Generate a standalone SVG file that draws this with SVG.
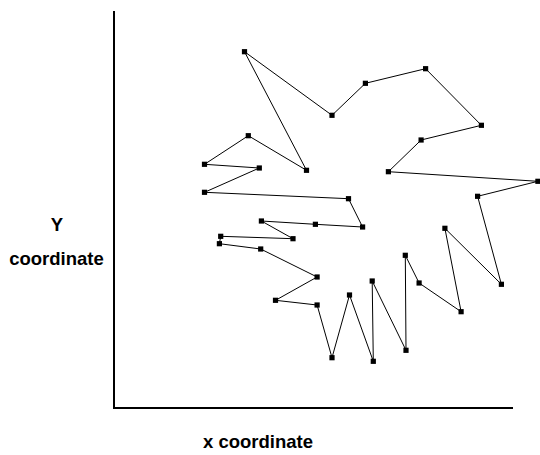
<svg xmlns="http://www.w3.org/2000/svg" width="540" height="455" viewBox="0 0 540 455">
<style>
.axis{stroke:#000;stroke-width:2;fill:none}
.c line{stroke:#000;stroke-width:1}
.n{fill:#000}
.lbl{font-family:"Liberation Sans",Arial,sans-serif;font-weight:bold;font-size:18.5px;fill:#000;text-anchor:middle}
</style>
<defs><rect id="pt" x="-2.6" y="-2.6" width="5.2" height="5.2" class="n"/></defs>
<rect width="540" height="455" fill="#fff"/>
<g id="axes">
<line class="axis" x1="114" y1="11" x2="114" y2="409"/>
<line class="axis" x1="113" y1="408" x2="513" y2="408"/>
</g>
<g id="connectors" class="c">
<line x1="244.5" y1="51.7" x2="332" y2="115.3"/>
<line x1="332" y1="115.3" x2="365.4" y2="83.3"/>
<line x1="365.4" y1="83.3" x2="425.6" y2="68.7"/>
<line x1="425.6" y1="68.7" x2="481.4" y2="125.3"/>
<line x1="481.4" y1="125.3" x2="421.1" y2="140"/>
<line x1="421.1" y1="140" x2="388.4" y2="171.7"/>
<line x1="388.4" y1="171.7" x2="537.9" y2="181.3"/>
<line x1="537.9" y1="181.3" x2="477.6" y2="196.3"/>
<line x1="477.6" y1="196.3" x2="501.4" y2="284.3"/>
<line x1="501.4" y1="284.3" x2="444.9" y2="228.3"/>
<line x1="444.9" y1="228.3" x2="461.1" y2="311.7"/>
<line x1="461.1" y1="311.7" x2="419.1" y2="283"/>
<line x1="419.1" y1="283" x2="405.3" y2="255.3"/>
<line x1="405.3" y1="255.3" x2="406" y2="350.3"/>
<line x1="406" y1="350.3" x2="372.2" y2="281"/>
<line x1="372.2" y1="281" x2="373.3" y2="361.3"/>
<line x1="373.3" y1="361.3" x2="349.5" y2="295"/>
<line x1="349.5" y1="295" x2="332" y2="357.7"/>
<line x1="332" y1="357.7" x2="317.1" y2="305"/>
<line x1="317.1" y1="305" x2="275.5" y2="300.3"/>
<line x1="275.5" y1="300.3" x2="317.1" y2="277"/>
<line x1="317.1" y1="277" x2="260.7" y2="249"/>
<line x1="260.7" y1="249" x2="219.4" y2="243.7"/>
<line x1="219.4" y1="243.7" x2="220.7" y2="236.3"/>
<line x1="220.7" y1="236.3" x2="293" y2="238.7"/>
<line x1="293" y1="238.7" x2="261.4" y2="221"/>
<line x1="261.4" y1="221" x2="315.4" y2="224.3"/>
<line x1="315.4" y1="224.3" x2="362.6" y2="227"/>
<line x1="362.6" y1="227" x2="348.5" y2="198.7"/>
<line x1="348.5" y1="198.7" x2="204.5" y2="192.3"/>
<line x1="204.5" y1="192.3" x2="259.3" y2="168"/>
<line x1="259.3" y1="168" x2="204.5" y2="164.3"/>
<line x1="204.5" y1="164.3" x2="248.3" y2="135.7"/>
<line x1="248.3" y1="135.7" x2="306.5" y2="170.3"/>
<line x1="306.5" y1="170.3" x2="244.5" y2="51.7"/>
</g>
<g id="p1"><use href="#pt" x="244.5" y="51.7"/></g>
<g id="p2"><use href="#pt" x="332" y="115.3"/></g>
<g id="p3"><use href="#pt" x="365.4" y="83.3"/></g>
<g id="p4"><use href="#pt" x="425.6" y="68.7"/></g>
<g id="p5"><use href="#pt" x="481.4" y="125.3"/></g>
<g id="p6"><use href="#pt" x="421.1" y="140"/></g>
<g id="p7"><use href="#pt" x="388.4" y="171.7"/></g>
<g id="p8"><use href="#pt" x="537.9" y="181.3"/></g>
<g id="p9"><use href="#pt" x="477.6" y="196.3"/></g>
<g id="p10"><use href="#pt" x="501.4" y="284.3"/></g>
<g id="p11"><use href="#pt" x="444.9" y="228.3"/></g>
<g id="p12"><use href="#pt" x="461.1" y="311.7"/></g>
<g id="p13"><use href="#pt" x="419.1" y="283"/></g>
<g id="p14"><use href="#pt" x="405.3" y="255.3"/></g>
<g id="p15"><use href="#pt" x="406" y="350.3"/></g>
<g id="p16"><use href="#pt" x="372.2" y="281"/></g>
<g id="p17"><use href="#pt" x="373.3" y="361.3"/></g>
<g id="p18"><use href="#pt" x="349.5" y="295"/></g>
<g id="p19"><use href="#pt" x="332" y="357.7"/></g>
<g id="p20"><use href="#pt" x="317.1" y="305"/></g>
<g id="p21"><use href="#pt" x="275.5" y="300.3"/></g>
<g id="p22"><use href="#pt" x="317.1" y="277"/></g>
<g id="p23"><use href="#pt" x="260.7" y="249"/></g>
<g id="p24"><use href="#pt" x="219.4" y="243.7"/></g>
<g id="p25"><use href="#pt" x="220.7" y="236.3"/></g>
<g id="p26"><use href="#pt" x="293" y="238.7"/></g>
<g id="p27"><use href="#pt" x="261.4" y="221"/></g>
<g id="p28"><use href="#pt" x="315.4" y="224.3"/></g>
<g id="p29"><use href="#pt" x="362.6" y="227"/></g>
<g id="p30"><use href="#pt" x="348.5" y="198.7"/></g>
<g id="p31"><use href="#pt" x="204.5" y="192.3"/></g>
<g id="p32"><use href="#pt" x="259.3" y="168"/></g>
<g id="p33"><use href="#pt" x="204.5" y="164.3"/></g>
<g id="p34"><use href="#pt" x="248.3" y="135.7"/></g>
<g id="p35"><use href="#pt" x="306.5" y="170.3"/></g>
<g id="labels">
<text class="lbl" x="57" y="231">Y</text>
<text class="lbl" x="56.5" y="265">coordinate</text>
<text class="lbl" x="258" y="448">x coordinate</text>
</g>
</svg>
